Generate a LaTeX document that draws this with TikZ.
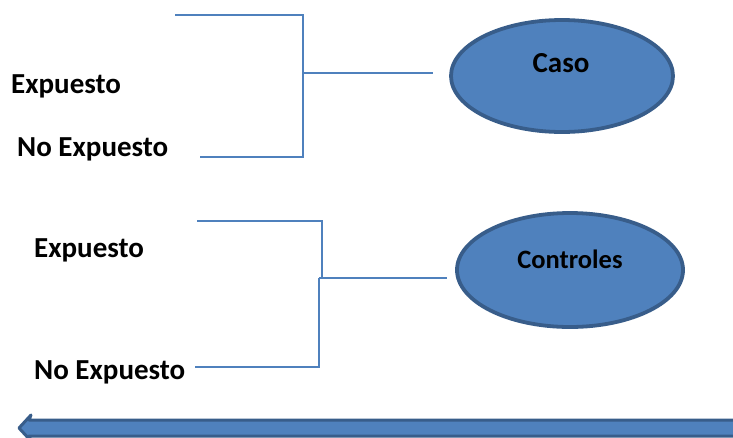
\documentclass[tikz,border=0pt]{standalone}
\usepackage{fontspec}
\setmainfont{Carlito}
\usetikzlibrary{shapes.geometric}
\definecolor{fillblue}{HTML}{4F81BD}
\definecolor{edgeblue}{HTML}{385D8A}
\begin{document}
\begin{tikzpicture}[x=1pt,y=-1pt,
  lab/.style={font=\fontsize{29}{34}\selectfont\bfseries, inner sep=0pt, anchor=base west},
  ctext/.style={font=\fontsize{29}{34}\selectfont\bfseries, inner sep=0pt, anchor=base},
  blob/.style={ellipse, fill=fillblue, draw=edgeblue, line width=3.8pt, minimum width=222pt, minimum height=112pt, inner sep=0pt},
  conn/.style={draw=fillblue, line width=1.2pt}]
\useasboundingbox (0,0) rectangle (733,437);
% labels
\node[lab] (e1) at (11,93) {Expuesto};
\node[lab] (n1) at (17,156) {No Expuesto};
\node[lab] (e2) at (34,257) {Expuesto};
\node[lab] (n2) at (34,379) {No Expuesto};
% ellipses
\node[blob] (caso) at (562,76) {};
\node[ctext] (casot) at (561,72) {Caso};
\node[blob, minimum width=226pt, minimum height=114pt] (ctrl) at (570,270) {};
\node[ctext, font=\fontsize{26.5}{31}\selectfont\bfseries] (ctrlt) at (570,268) {Controles};
% top bracket
\coordinate (a1) at (175,15);
\coordinate (a2) at (303,15);
\coordinate (a3) at (303,157);
\coordinate (a4) at (200,157);
\coordinate (am) at (303,73);
\coordinate (ae) at (433,73);
\draw[conn] (a1) -- (a2) -- (a3) -- (a4);
\draw[conn] (am) -- (ae);
% bottom bracket
\coordinate (b1) at (197,221);
\coordinate (b2) at (322,221);
\coordinate (b3) at (322,278);
\coordinate (b4) at (319,278);
\coordinate (b5) at (319,367);
\coordinate (b6) at (195,367);
\coordinate (be) at (447,278);
\draw[conn] (b1) -- (b2) -- (b3);
\draw[conn] (b4) -- (b5) -- (b6);
\draw[conn, line width=1.8pt] (b4) -- (be);
% bottom arrow
\coordinate (t) at (19,428);
\draw[fill=fillblue, draw=edgeblue, line width=3pt, line join=round]
  (740,420) -- (29,420) -- (31,415) -- (t) -- (31,441) -- (29,436) -- (740,436);
\end{tikzpicture}
\end{document}
